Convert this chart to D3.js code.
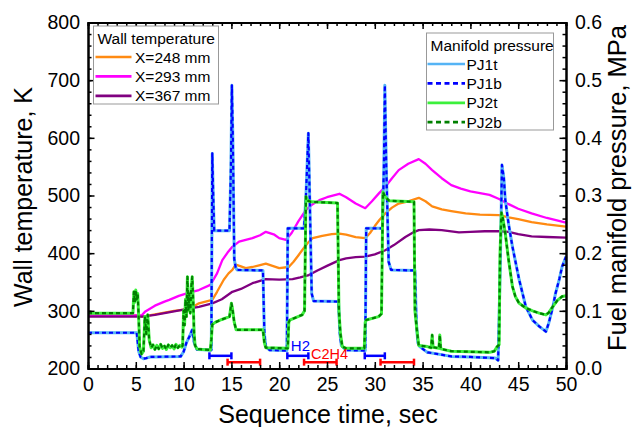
<!DOCTYPE html>
<html>
<head>
<meta charset="utf-8">
<script src="https://cdnjs.cloudflare.com/ajax/libs/d3/7.8.5/d3.min.js"></script>
<style>
  body { margin: 0; background: #fff; }
  svg { font-family: "Liberation Sans", Arial, sans-serif; }
</style>
</head>
<body>
<script>
// wall temperatures, K  ([time s, value])
var wall248 = [[0,292],[5.3,292],[5.6,290],[6,291],[7,294],[8,297],[9,300],[10,302],[11,307],[11.6,313],[12.5,317],[13,319],[13.5,333],[14.2,354],[14.7,365],[15.1,371],[15.45,380],[16,377],[16.5,374],[17.2,376],[17.9,379],[18.6,382],[19.3,378],[20,374],[21,376],[21.5,385],[22,396],[22.4,405],[23,418],[23.5,426],[24.5,430],[25.5,433],[26.3,434],[27,432],[28,428],[29,426],[29.5,435],[30,447],[30.5,458],[31.1,469],[31.8,479],[32.5,486],[33.5,490],[34.6,496],[35.3,490],[36,481],[37,476],[38,473],[39.5,469],[41,467],[43,466],[44,462],[45,459],[46.4,454],[48,450],[50,446]];
var wall293 = [[0,292],[5.3,292],[5.6,292],[6,299],[7,309],[8,316],[8.5,319],[9.5,326],[10.5,331],[11.6,336],[12.8,345],[13.5,365],[14.05,388],[14.6,401],[15.1,411],[15.8,420],[16.5,423],[17.2,426],[18,431],[18.6,437],[19.5,432],[20,426],[20.7,423],[21.3,435],[22,455],[22.8,475],[23.5,485],[24.2,492],[25,497],[26.3,503],[27,497],[28,486],[29,478],[29.7,490],[30.5,505],[31.1,515],[31.8,530],[32.5,544],[33.5,555],[34.6,563],[35.3,555],[36,544],[37,530],[38,518],[39,512],[40,507],[41,504],[42,501],[43,494],[44,485],[45,477],[46.4,469],[48,461],[50,453]];
var wall367 = [[0,290],[5.3,290],[5.7,290],[7,293],[8,296],[9,299],[10,302],[11,305],[11.6,307],[13,313],[14,320],[15.1,333],[16,338],[17.2,348],[18.6,355],[20,354],[21.4,355],[22.2,358],[23.1,362],[24,370],[25,378],[26.3,388],[27,391],[28,393],[29,394],[30,398],[31.1,405],[32,414],[33.2,428],[34,436],[34.6,440],[35.7,441],[37,440],[38.8,436],[40,437],[41.5,438],[43,438],[44,437],[45,433],[46.4,429],[48,428],[50,427]];

// fuel manifold pressures, MPa
var pj1t = [[0,0.062],[5.1,0.062],[5.3,0.030],[5.5,0.020],[5.8,0.017],[6.1,0.018],[6.5,0.020],[9.7,0.021],[10.0,0.029],[10.3,0.045],[10.6,0.055],[10.9,0.067],[11.1,0.045],[11.4,0.033],[12.9,0.032],[13.0,0.373],[13.1,0.300],[13.2,0.239],[14.8,0.239],[14.95,0.35],[15.05,0.491],[15.15,0.40],[15.3,0.19],[15.45,0.175],[15.6,0.171],[18.3,0.170],[18.45,0.06],[18.6,0.038],[19,0.032],[20.8,0.031],[20.9,0.243],[22.6,0.243],[22.8,0.30],[23.05,0.408],[23.25,0.25],[23.4,0.13],[23.6,0.117],[26.2,0.116],[26.35,0.06],[26.5,0.040],[27,0.032],[29.0,0.031],[29.1,0.243],[30.8,0.243],[30.95,0.35],[31.05,0.491],[31.2,0.35],[31.45,0.185],[31.7,0.171],[34.2,0.170],[34.35,0.08],[34.5,0.045],[34.7,0.038],[35.5,0.028],[38,0.021],[40,0.020],[42.6,0.018],[42.9,0.014],[43.15,0.2],[43.3,0.353],[43.5,0.33],[43.65,0.292],[44.0,0.25],[44.4,0.211],[45.1,0.154],[45.8,0.107],[46.5,0.084],[47.2,0.073],[47.9,0.064],[48.2,0.079],[48.6,0.105],[48.9,0.130],[49.3,0.155],[49.6,0.177],[50,0.194]];
var pj1b = pj1t;
var pj2t = [[0,0.096],[4.7,0.096],[4.8,0.133],[4.9,0.115],[5.0,0.136],[5.1,0.12],[5.2,0.13],[5.3,0.09],[5.4,0.038],[5.6,0.025],[5.8,0.03],[5.95,0.09],[6.1,0.06],[6.25,0.093],[6.4,0.05],[6.6,0.036],[6.8,0.041],[7.0,0.033],[7.2,0.040],[7.4,0.034],[7.6,0.042],[7.8,0.035],[8.0,0.039],[8.2,0.033],[8.4,0.041],[8.6,0.036],[8.8,0.040],[9.0,0.034],[9.2,0.042],[9.4,0.036],[9.6,0.040],[9.8,0.037],[9.9,0.04],[10.0,0.10],[10.1,0.075],[10.2,0.12],[10.3,0.09],[10.4,0.159],[10.5,0.10],[10.6,0.13],[10.7,0.096],[10.8,0.14],[10.9,0.159],[11.0,0.12],[11.1,0.06],[11.2,0.04],[11.4,0.034],[12.0,0.033],[12.8,0.032],[12.9,0.05],[13.0,0.076],[13.3,0.080],[14,0.085],[14.8,0.090],[15.0,0.113],[15.1,0.105],[15.3,0.08],[15.5,0.067],[18.3,0.067],[18.45,0.045],[18.6,0.036],[20.9,0.035],[21.0,0.08],[21.1,0.084],[22.4,0.093],[22.65,0.1],[22.8,0.298],[23.0,0.291],[23.3,0.289],[26.1,0.287],[26.25,0.1],[26.4,0.061],[26.6,0.038],[27,0.035],[28.9,0.035],[29.0,0.08],[29.1,0.084],[30.4,0.09],[30.7,0.095],[30.85,0.306],[31.1,0.297],[31.5,0.291],[34.1,0.289],[34.2,0.1],[34.4,0.067],[34.6,0.04],[35.5,0.038],[35.9,0.036],[36.0,0.058],[36.1,0.037],[36.7,0.035],[36.8,0.058],[36.9,0.034],[38,0.03],[40,0.029],[42,0.028],[42.5,0.03],[42.8,0.038],[43.0,0.041],[43.1,0.2],[43.25,0.27],[43.4,0.26],[43.65,0.234],[44.0,0.188],[44.4,0.142],[44.7,0.125],[45.1,0.113],[45.8,0.105],[46.5,0.100],[47.2,0.096],[47.9,0.093],[48.2,0.097],[48.6,0.107],[49.1,0.118],[49.6,0.125],[50,0.126]];
var pj2b = pj2t;

// injection intervals, s
var h2Bars = [[12.7,15.0],[20.85,23.05],[28.95,31.05]];
var c2h4Bars = [[14.6,18.0],[22.6,26.0],[30.6,34.1]];
var h2Level = 222, c2h4Level = 211; // K, where the bars sit

var xTicks = d3.range(0, 51, 5);
var tTicks = d3.range(200, 801, 100);
var pTicks = d3.range(0, 0.61, 0.1);

var svgWidth = 632, svgHeight = 427;
var margin = { top: 22.5, right: 66, bottom: 58.5, left: 88 };
var width = svgWidth - margin.left - margin.right;
var height = svgHeight - margin.top - margin.bottom;

var svg = d3.select("body").append("svg")
  .attr("width", svgWidth)
  .attr("height", svgHeight);
var chart = svg.append("g")
  .attr("transform", "translate(" + margin.left + "," + margin.top + ")");

var x = d3.scaleLinear().domain([0, 50]).range([0, width]);
var yT = d3.scaleLinear().domain([200, 800]).range([height, 0]);
var yP = d3.scaleLinear().domain([0, 0.6]).range([height, 0]);

function drawLine(data, scale, color, w, dash) {
  var line = d3.line()
    .x(function(d) { return x(d[0]); })
    .y(function(d) { return scale(d[1]); });
  chart.append("path")
    .datum(data)
    .attr("d", line)
    .attr("fill", "none")
    .attr("stroke", color)
    .attr("stroke-width", w)
    .attr("stroke-linejoin", "round")
    .attr("stroke-dasharray", dash || null);
}

var cOrange = "#ff8a12", cMagenta = "#ff00ff", cPurple = "#800080";
var cPJ1t = "#55b4f5", cPJ1b = "#0000ff", cPJ2t = "#3cf03c", cPJ2b = "#008000";

drawLine(wall248, yT, cOrange, 2.3);
drawLine(wall293, yT, cMagenta, 2.3);
drawLine(wall367, yT, cPurple, 2.3);
drawLine(pj1t, yP, cPJ1t, 3);
drawLine(pj1b, yP, cPJ1b, 2.2, "4,3");
drawLine(pj2t, yP, cPJ2t, 3);
drawLine(pj2b, yP, cPJ2b, 2.2, "4,3");

// injection bars
function drawBars(bars, level, color) {
  var g = chart.append("g").attr("stroke", color).attr("stroke-width", 2.5);
  bars.forEach(function(b) {
    var yy = yT(level);
    g.append("line").attr("x1", x(b[0])).attr("x2", x(b[1])).attr("y1", yy).attr("y2", yy);
    g.append("line").attr("x1", x(b[0])).attr("x2", x(b[0])).attr("y1", yy - 3.5).attr("y2", yy + 3.5);
    g.append("line").attr("x1", x(b[1])).attr("x2", x(b[1])).attr("y1", yy - 3.5).attr("y2", yy + 3.5);
  });
}
drawBars(h2Bars, h2Level, "#0000ff");
drawBars(c2h4Bars, c2h4Level, "#ff0000");

chart.append("text").attr("x", x(h2Bars[1][0]) + 3.5).attr("y", yT(h2Level) - 4.5)
  .attr("fill", "#0000ff").style("font-size", "15px").text("H2");
chart.append("text").attr("x", x(c2h4Bars[1][0]) + 7).attr("y", yT(c2h4Level) - 3)
  .attr("fill", "#ff0000").style("font-size", "14.5px").text("C2H4");

// axes, inward ticks on all four sides
function styleAxis(g) {
  g.selectAll(".domain").attr("stroke", "#000").attr("stroke-width", 2);
  g.selectAll(".tick line").attr("stroke", "#000").attr("stroke-width", 1.5);
  g.selectAll("text").style("font-size", "19.5px").attr("fill", "#000");
}

var bottomMinor = d3.axisBottom(x).tickValues(d3.range(0, 51, 1)).tickSize(-3.5).tickFormat("");
var bottomAxis = d3.axisBottom(x).tickValues(xTicks).tickSizeInner(-6.5).tickSizeOuter(0).tickPadding(9);
var topMinor = d3.axisTop(x).tickValues(d3.range(0, 51, 1)).tickSize(-3.5).tickFormat("");
var topAxis = d3.axisTop(x).tickValues(xTicks).tickSizeInner(-6.5).tickSizeOuter(0).tickFormat("");
var leftMinor = d3.axisLeft(yT).tickValues(d3.range(200, 801, 20)).tickSize(-3.5).tickFormat("");
var leftAxis = d3.axisLeft(yT).tickValues(tTicks).tickSizeInner(-6.5).tickSizeOuter(0).tickPadding(8);
var rightMinor = d3.axisRight(yP).tickValues(d3.range(0, 0.601, 0.02)).tickSize(-3.5).tickFormat("");
var rightAxis = d3.axisRight(yP).tickValues(pTicks).tickSizeInner(-6.5).tickSizeOuter(0).tickPadding(9).tickFormat(d3.format(".1f"));

chart.append("g").attr("transform", "translate(0," + height + ")").call(bottomMinor).call(styleAxis);
chart.append("g").attr("transform", "translate(0," + height + ")").call(bottomAxis).call(styleAxis);
chart.append("g").call(topMinor).call(styleAxis);
chart.append("g").call(topAxis).call(styleAxis);
chart.append("g").call(leftMinor).call(styleAxis);
chart.append("g").call(leftAxis).call(styleAxis);
chart.append("g").attr("transform", "translate(" + width + ",0)").call(rightMinor).call(styleAxis);
chart.append("g").attr("transform", "translate(" + width + ",0)").call(rightAxis).call(styleAxis);

// axis titles
svg.append("text").attr("transform", "translate(32,197) rotate(-90)")
  .attr("text-anchor", "middle").style("font-size", "25px").text("Wall temperature, K");
svg.append("text").attr("x", 328).attr("y", 423)
  .attr("text-anchor", "middle").style("font-size", "25px").text("Sequence time, sec");
svg.append("text").attr("transform", "translate(626,188) rotate(-90)")
  .attr("text-anchor", "middle").style("font-size", "25.5px").text("Fuel manifold pressure, MPa");

// legends
function legend(x0, y0, w, h, title, items) {
  var g = svg.append("g").attr("transform", "translate(" + x0 + "," + y0 + ")");
  g.append("rect").attr("width", w).attr("height", h)
    .attr("fill", "#fff").attr("stroke", "#999").attr("stroke-width", 1);
  g.append("text").attr("x", 4).attr("y", 18).style("font-size", "15.5px").text(title);
  items.forEach(function(it, i) {
    var yy = 31 + i * 19.4;
    g.append("line").attr("x1", it.lx0).attr("x2", it.lx1).attr("y1", yy).attr("y2", yy)
      .attr("stroke", it.color).attr("stroke-width", it.w).attr("stroke-dasharray", it.dash || null);
    g.append("text").attr("x", it.tx).attr("y", yy + 5.5).style("font-size", "15.5px").text(it.label);
  });
}

legend(93.5, 26, 125, 78, "Wall temperature", [
  { label: "X=248 mm", color: cOrange, w: 2.7, lx0: 2, lx1: 38, tx: 41.5 },
  { label: "X=293 mm", color: cMagenta, w: 2.7, lx0: 2, lx1: 38, tx: 41.5 },
  { label: "X=367 mm", color: cPurple, w: 2.7, lx0: 2, lx1: 38, tx: 41.5 }
]);
legend(426.5, 33, 127, 97, "Manifold pressure", [
  { label: "PJ1t", color: cPJ1t, w: 2.7, lx0: 1, lx1: 38.5, tx: 40 },
  { label: "PJ1b", color: cPJ1b, w: 2.7, dash: "5,3.5", lx0: 1, lx1: 38.5, tx: 40 },
  { label: "PJ2t", color: cPJ2t, w: 2.7, lx0: 1, lx1: 38.5, tx: 40 },
  { label: "PJ2b", color: cPJ2b, w: 2.7, dash: "5,3.5", lx0: 1, lx1: 38.5, tx: 40 }
]);
</script>
</body>
</html>
